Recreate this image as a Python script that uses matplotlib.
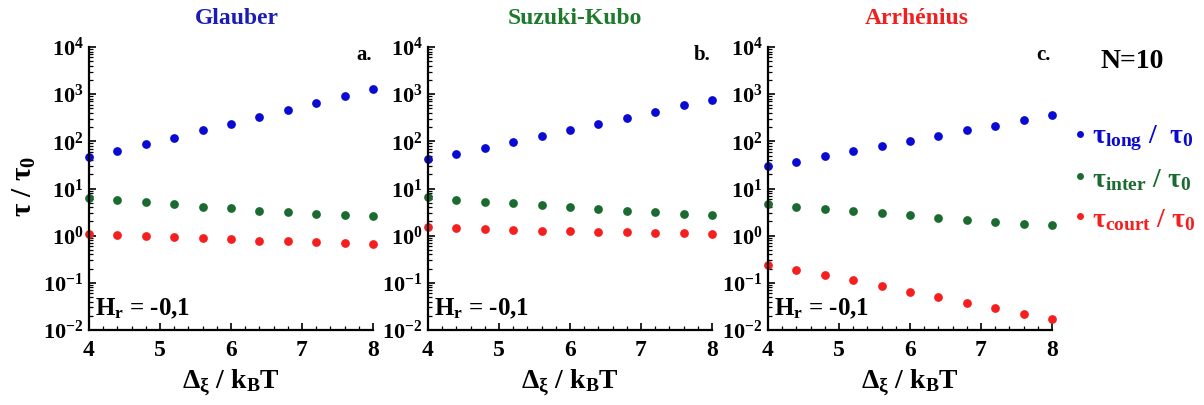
import numpy as np
import matplotlib
matplotlib.use("Agg")
import matplotlib.pyplot as plt
from matplotlib.ticker import LogLocator, MultipleLocator, NullFormatter

plt.rcParams['font.family'] = ['Liberation Serif', 'DejaVu Serif']
plt.rcParams['font.weight'] = 'bold'
plt.rcParams['mathtext.fontset'] = 'custom'
plt.rcParams['mathtext.rm'] = 'Liberation Serif:bold'
plt.rcParams['mathtext.it'] = 'Liberation Serif:bold'
plt.rcParams['mathtext.bf'] = 'Liberation Serif:bold'
plt.rcParams['mathtext.default'] = 'rm'

x = [4.0, 4.4, 4.8, 5.2, 5.6, 6.0, 6.4, 6.8, 7.2, 7.6, 8.0]

glauber_long = [47, 63, 87, 120, 170, 233, 327, 467, 660, 930, 1290]
glauber_inter = [6.2, 5.7, 5.1, 4.7, 4.1, 3.8, 3.4, 3.1, 2.9, 2.8, 2.6]
glauber_court = [1.1, 1.05, 1.0, 0.94, 0.88, 0.84, 0.78, 0.76, 0.72, 0.70, 0.68]

suzuki_long = [42, 54, 73, 98, 129, 170, 229, 315, 425, 580, 760]
suzuki_inter = [6.5, 5.7, 5.3, 4.9, 4.5, 4.0, 3.7, 3.4, 3.2, 2.9, 2.7]
suzuki_court = [1.5, 1.43, 1.38, 1.34, 1.28, 1.25, 1.22, 1.18, 1.14, 1.12, 1.08]

arrh_long = [30, 37, 49, 63, 80, 103, 131, 171, 214, 281, 357]
arrh_inter = [4.6, 4.1, 3.6, 3.36, 3.0, 2.77, 2.35, 2.2, 1.97, 1.79, 1.68]
arrh_court = [0.24, 0.19, 0.146, 0.113, 0.086, 0.065, 0.049, 0.037, 0.029, 0.022, 0.017]

titles = ['Glauber', 'Suzuki-Kubo', 'Arrhénius']
title_colors = ['#1c1cb4', '#1f7a2e', '#f02020']
letters = ['a.', 'b.', 'c.']
panels = [
    (glauber_long, glauber_inter, glauber_court),
    (suzuki_long, suzuki_inter, suzuki_court),
    (arrh_long, arrh_inter, arrh_court),
]
series_colors = ['#0a0ad2', '#1b6b30', '#f51f1f']
legend_labels = [r'$\tau_{long}$ /  $\tau_0$', r'$\tau_{inter}$ / $\tau_0$', r'$\tau_{court}$ / $\tau_0$']

W, H = 1204, 405
fig = plt.figure(figsize=(W / 100, H / 100), dpi=100)
lefts = [89, 428, 768]
ax_w = 284
top, bottom = 47, 330
title_x = [237, 575, 917]

axes = []
for i, l in enumerate(lefts):
    ax = fig.add_axes([l / W, 1 - bottom / H, ax_w / W, (bottom - top) / H])
    axes.append(ax)
    for vals, c in zip(panels[i], series_colors):
        ax.plot(x, vals, 'o', color=c, markersize=6.3, markeredgewidth=0, clip_on=False)
    ax.set_yscale('log')
    ax.set_ylim(1e-2, 1e4)
    ax.set_xlim(4, 8)
    ax.spines['top'].set_visible(False)
    ax.spines['right'].set_visible(False)
    ax.spines['left'].set_linewidth(1.6)
    ax.spines['bottom'].set_linewidth(1.6)
    ax.xaxis.set_major_locator(MultipleLocator(1))
    ax.xaxis.set_minor_locator(MultipleLocator(0.2))
    ax.yaxis.set_major_locator(LogLocator(base=10, numticks=10))
    ax.yaxis.set_minor_locator(LogLocator(base=10, subs=np.arange(2, 10), numticks=20))
    ax.yaxis.set_minor_formatter(NullFormatter())
    ax.tick_params(which='major', direction='in', length=5, width=1.2, labelsize=17, pad=7)
    ax.tick_params(which='minor', direction='in', length=3, width=0.9)
    ax.tick_params(axis='y', which='major', labelsize=16, pad=4)
    for lab in ax.get_xticklabels() + ax.get_yticklabels():
        lab.set_fontweight('bold')
    fig.text(title_x[i] / W, 1 - 18 / H, titles[i], color=title_colors[i], fontsize=17,
             fontweight='bold', ha='center', va='center')
    ax.text(0.995, 0.97, letters[i], transform=ax.transAxes, ha='right', va='center',
            fontsize=15, fontweight='bold')
    ax.text(0.02, 0.075, r'H$_\mathregular{r}$ = -0,1', transform=ax.transAxes, ha='left', va='center',
            fontsize=18, fontweight='bold')
    cx = (l + ax_w / 2) / W
    fig.text(cx, 1 - 389 / H, r'$\Delta_\xi$ / k$_\mathregular{B}$T', fontsize=20, fontweight='bold',
             ha='center', va='baseline')

fig.text(24 / W, 1 - 186 / H, r'$\tau$ / $\tau_0$', fontsize=21, fontweight='bold',
         rotation=90, ha='center', va='center')

fig.text(1132 / W, 1 - 62 / H, 'N=10', ha='center', va='center', fontsize=20, fontweight='bold')

leg_y = [134, 176, 216]
for lbl, c, yy in zip(legend_labels, series_colors, leg_y):
    fig.lines.append(plt.Line2D([1080 / W], [1 - yy / H], marker='o', color=c, markersize=5,
                                markeredgewidth=0, transform=fig.transFigure))
    fig.text(1092 / W, 1 - (yy + 4) / H, lbl, color=c, ha='left', va='center', fontsize=20,
             fontweight='bold')

fig.savefig('out.png', dpi=100)
